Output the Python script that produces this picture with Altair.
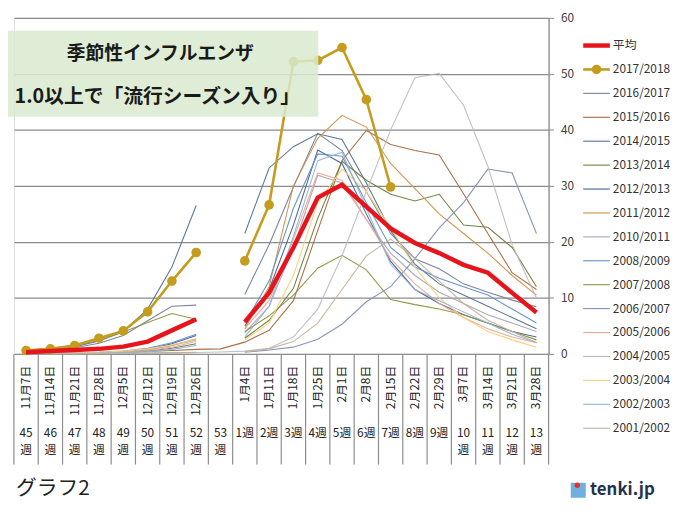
import altair as alt
import pandas as pd

# ---------------- data ----------------
weeks = ["45", "46", "47", "48", "49", "50", "51", "52", "53",
         "1", "2", "3", "4", "5", "6", "7", "8", "9", "10", "11", "12", "13"]
dates = ["11月7日", "11月14日", "11月21日", "11月28日", "12月5日", "12月12日", "12月19日", "12月26日", "",
         "1月4日", "1月11日", "1月18日", "1月25日", "2月1日", "2月8日", "2月15日", "2月22日", "2月29日",
         "3月7日", "3月14日", "3月21日", "3月28日"]
week_line1 = ["45", "46", "47", "48", "49", "50", "51", "52", "53",
              "1週", "2週", "3週", "4週", "5週", "6週", "7週", "8週", "9週", "10", "11", "12", "13"]
week_line2 = ["週"] * 9 + [""] * 9 + ["週"] * 4

N = None
avg_vals = [0.3, 0.5, 0.7, 0.9, 1.3, 2.2, 4.2, 6.2, N, 5.7, 10.9, 19.0, 27.9, 30.2, 26.3, 22.4, 19.8, 18.0, 15.9, 14.5, 10.9, 7.4]
s1718 = [0.6, 0.9, 1.5, 2.8, 4.1, 7.5, 13.0, 18.1, N, 16.6, 26.6, 52.2, 52.4, 54.7, 45.4, 29.8, N, N, N, N, N, N]
s1617 = [0.5, 0.7, 1.1, 1.9, 3.3, 5.9, 8.5, 8.7, N, 10.6, 19.5, 29.8, 39.4, 36.3, 29.0, 21.5, 17.0, 15.2, 12.5, 11.0, 9.6, 8.4]
s1516 = [0.1, 0.1, 0.15, 0.2, 0.3, 0.45, 0.6, 0.8, 0.9, 2.1, 4.2, 9.5, 22.0, 34.5, 39.9, 37.4, 36.3, 35.5, 28.6, 21.5, 14.5, 11.5]
s1415 = [0.5, 0.8, 1.3, 2.3, 4.0, 8.0, 15.5, 26.5, N, 21.5, 33.2, 37.0, 39.3, 38.3, 30.5, 22.0, 16.0, 12.5, 10.5, 8.5, 6.5, 4.5]
s1314 = [0.1, 0.1, 0.15, 0.2, 0.3, 0.5, 1.0, 1.8, N, 2.8, 6.0, 11.7, 24.2, 34.4, 31.0, 28.5, 27.3, 28.5, 23.0, 22.6, 19.0, 12.0]
s1213 = [0.1, 0.1, 0.15, 0.2, 0.35, 0.8, 1.8, 3.3, N, 5.0, 11.5, 23.0, 36.4, 34.0, 25.0, 16.5, 11.5, 9.0, 7.0, 5.5, 4.0, 3.0]
s1112 = [0.1, 0.1, 0.15, 0.25, 0.4, 0.8, 1.5, 2.7, N, 4.5, 12.0, 30.0, 38.5, 42.6, 40.5, 34.0, 29.5, 25.0, 21.5, 18.0, 14.0, 10.5]
s1011 = [0.1, 0.1, 0.15, 0.25, 0.4, 0.8, 1.5, 2.5, N, 3.8, 8.5, 19.0, 31.9, 30.5, 24.0, 18.0, 14.0, 11.0, 9.0, 7.0, 5.5, 4.0]
s0809 = [0.1, 0.15, 0.2, 0.3, 0.5, 1.0, 2.0, 3.5, N, 5.5, 13.0, 26.0, 35.7, 35.3, 27.0, 19.0, 15.5, 13.5, 12.0, 10.5, 8.0, 5.5]
s0708 = [0.7, 1.0, 1.5, 2.4, 3.9, 5.6, 7.2, 6.2, N, 4.0, 6.8, 10.5, 15.3, 17.6, 15.0, 9.7, 8.8, 8.0, 7.0, 5.5, 4.0, 2.5]
s0607 = [0.05, 0.05, 0.05, 0.08, 0.1, 0.15, 0.2, 0.3, N, 0.3, 0.7, 1.2, 2.6, 5.3, 9.3, 12.0, 17.0, 22.5, 27.0, 33.0, 32.3, 21.5]
s0506 = [0.1, 0.1, 0.15, 0.2, 0.3, 0.6, 1.2, 2.2, N, 4.5, 9.5, 20.5, 32.3, 31.0, 24.0, 17.0, 12.5, 9.0, 6.5, 4.5, 3.0, 2.0]
s0405 = [0.05, 0.05, 0.05, 0.06, 0.08, 0.1, 0.15, 0.25, 0.35, 0.5, 1.0, 3.0, 8.0, 17.5, 29.0, 40.0, 49.3, 50.1, 44.4, 33.5, 19.5, 10.0]
s0304 = [0.1, 0.15, 0.2, 0.3, 0.5, 0.9, 1.6, 2.6, N, 2.5, 5.5, 14.0, 27.0, 33.0, 29.0, 22.5, 15.5, 10.0, 6.5, 4.0, 2.5, 1.2]
s0203 = [0.05, 0.1, 0.1, 0.15, 0.25, 0.4, 0.8, 1.5, N, 3.0, 8.5, 21.0, 34.5, 36.0, 26.0, 16.0, 11.5, 9.5, 7.5, 5.5, 3.5, 2.0]
s0102 = [0.05, 0.05, 0.05, 0.05, 0.08, 0.1, 0.15, 0.2, N, 0.4, 0.9, 2.2, 5.5, 11.5, 17.5, 20.5, 17.0, 13.0, 9.0, 6.0, 4.0, 2.0]

thin_names = ["2016/2017", "2015/2016", "2014/2015", "2013/2014", "2012/2013", "2011/2012", "2010/2011",
              "2008/2009", "2007/2008", "2006/2007", "2005/2006", "2004/2005", "2003/2004", "2002/2003", "2001/2002"]
thin_values = [s1617, s1516, s1415, s1314, s1213, s1112, s1011, s0809, s0708, s0607, s0506, s0405, s0304, s0203, s0102]
thin_colors = ["#74809A", "#A4683F", "#527293", "#6E7E3A", "#436294", "#D28E4A", "#A6A6B8",
               "#6090C6", "#88943E", "#8290B4", "#EDA892", "#BCBCC4", "#F7D07A", "#94B4DA", "#C4B29A"]
AVG_NAME = "平均"
CUR_NAME = "2017/2018"
AVG_COLOR = "#E8141C"
CUR_COLOR = "#C49C1E"


def to_rows(name, vals):
    rows = []
    seg = 0
    for i, v in enumerate(vals):
        if v is None:
            seg += 1
            continue
        rows.append({"season": name, "xc": i + 0.5, "v": v, "seg": f"{name}-{seg}"})
    return rows


thin_rows = []
for nm, vals in zip(thin_names, thin_values):
    thin_rows += to_rows(nm, vals)
df_thin = pd.DataFrame(thin_rows)
df_avg = pd.DataFrame(to_rows(AVG_NAME, avg_vals))
df_cur = pd.DataFrame(to_rows(CUR_NAME, s1718))
df_cat = pd.DataFrame({"xc": [i + 0.5 for i in range(len(weeks))], "date": dates,
                       "w1": week_line1, "w2": week_line2})
df_sep = pd.DataFrame({"xb": list(range(len(weeks) + 1))})

# ---------------- layout ----------------
W, H = 541, 340
FONT = "Noto Sans CJK JP"
xscale = alt.Scale(domain=[0, 22], nice=False, zero=False)
yscale = alt.Scale(domain=[0, 60], nice=False, zero=True)
yaxis = alt.Axis(orient="right", values=[0, 10, 20, 30, 40, 50, 60], title=None, grid=True,
                 gridColor="#8c8c8c", gridWidth=1.3, domainColor="#8c8c8c", domainWidth=1.3,
                 tickColor="#8c8c8c", tickSize=5, labelPadding=7, labelFontSize=12,
                 labelColor="#404040", labelFont=FONT)
X = alt.X("xc:Q", scale=xscale, axis=None)
Y = alt.Y("v:Q", scale=yscale, axis=yaxis)
one = pd.DataFrame({"a": [0]})

layers = []

thin = alt.Chart(df_thin).mark_line(strokeWidth=1.1, opacity=0.95).encode(
    x=X, y=Y,
    color=alt.Color("season:N", scale=alt.Scale(domain=thin_names, range=thin_colors), legend=None),
    detail="seg:N", order="xc:Q")
layers.append(thin)

cur_line = alt.Chart(df_cur).mark_line(strokeWidth=2.6, color=CUR_COLOR).encode(
    x=X, y=Y, detail="seg:N", order="xc:Q")
cur_pts = alt.Chart(df_cur).mark_point(filled=True, size=95, opacity=1, color=CUR_COLOR).encode(x=X, y=Y)
avg_line = alt.Chart(df_avg).mark_line(strokeWidth=4.5, color=AVG_COLOR).encode(
    x=X, y=Y, detail="seg:N", order="xc:Q")
layers += [cur_line, cur_pts, avg_line]

# category separators below the axis
seps = alt.Chart(df_sep).mark_rule(color="#8c8c8c", strokeWidth=1.2).encode(
    x=alt.X("xb:Q", scale=xscale, axis=None), y=alt.value(H), y2=alt.value(H + 112))
layers.append(seps)

date_txt = alt.Chart(df_cat).mark_text(angle=270, align="right", baseline="middle", fontSize=12,
                                       font=FONT, color="#222").encode(
    x=X, y=alt.value(H + 12), text="date:N")
w1_txt = alt.Chart(df_cat).mark_text(align="center", baseline="middle", fontSize=12,
                                     font=FONT, color="#222").encode(
    x=X, y=alt.value(H + 80), text="w1:N")
w2_txt = alt.Chart(df_cat).mark_text(align="center", baseline="middle", fontSize=12,
                                     font=FONT, color="#222").encode(
    x=X, y=alt.value(H + 97), text="w2:N")
layers += [date_txt, w1_txt, w2_txt]

# title box (drawn over the lines, semi-transparent)
box = alt.Chart(one).mark_rect(color="#D9EACF", opacity=0.85).encode(
    x=alt.value(-6), x2=alt.value(308), y=alt.value(13), y2=alt.value(100))
t1 = alt.Chart(one).mark_text(text="季節性インフルエンザ", fontSize=19, fontWeight="bold", font=FONT,
                              color="#1a1a1a", align="center", baseline="middle").encode(
    x=alt.value(148), y=alt.value(37))
t2 = alt.Chart(one).mark_text(text="1.0以上で「流行シーズン入り」", fontSize=20, fontWeight="bold", font=FONT,
                              color="#1a1a1a", align="center", baseline="middle").encode(
    x=alt.value(145), y=alt.value(80))
layers += [box, t1, t2]

# manual legend
leg_names = [AVG_NAME, CUR_NAME] + thin_names
leg_colors = [AVG_COLOR, CUR_COLOR] + thin_colors
leg_widths = [4.5, 2.6] + [1.1] * len(thin_names)
LX1, LX2, LT = 576, 603, 606
for k, (nm, col, sw) in enumerate(zip(leg_names, leg_colors, leg_widths)):
    ly = 28 + 24.2 * k
    layers.append(alt.Chart(one).mark_rule(color=col, strokeWidth=sw).encode(
        x=alt.value(LX1), x2=alt.value(LX2), y=alt.value(ly)))
    if nm == CUR_NAME:
        layers.append(alt.Chart(one).mark_point(filled=True, size=95, opacity=1, color=col).encode(
            x=alt.value((LX1 + LX2) / 2), y=alt.value(ly)))
    layers.append(alt.Chart(one).mark_text(text=nm, fontSize=12, font=FONT, color="#333",
                                           align="left", baseline="middle").encode(
        x=alt.value(LT), y=alt.value(ly)))

# footer
foot = alt.Chart(one).mark_text(text="グラフ2", fontSize=21, font=FONT, color="#222",
                                align="left", baseline="middle").encode(x=alt.value(2), y=alt.value(477))
icon = alt.Chart(one).mark_square(size=230, color="#6FB0E0", opacity=1).encode(
    x=alt.value(571), y=alt.value(478))
icon_sun = alt.Chart(one).mark_point(filled=True, size=30, color="#E8301C", opacity=1).encode(
    x=alt.value(570), y=alt.value(473))
logo = alt.Chart(one).mark_text(text="tenki.jp", fontSize=17, fontWeight="bold", font=FONT,
                                color="#24324E", align="left", baseline="middle").encode(
    x=alt.value(583), y=alt.value(478))
layers += [foot, icon, icon_sun, logo]

chart = alt.layer(*layers).properties(
    width=W, height=H,
    padding={"left": 6, "top": 7, "right": 137, "bottom": 156},
    autosize=alt.AutoSizeParams(type="none"),
).configure_view(stroke=None).configure(background="white")

chart.save("out.html", embed_options={"renderer": "svg", "actions": False})
